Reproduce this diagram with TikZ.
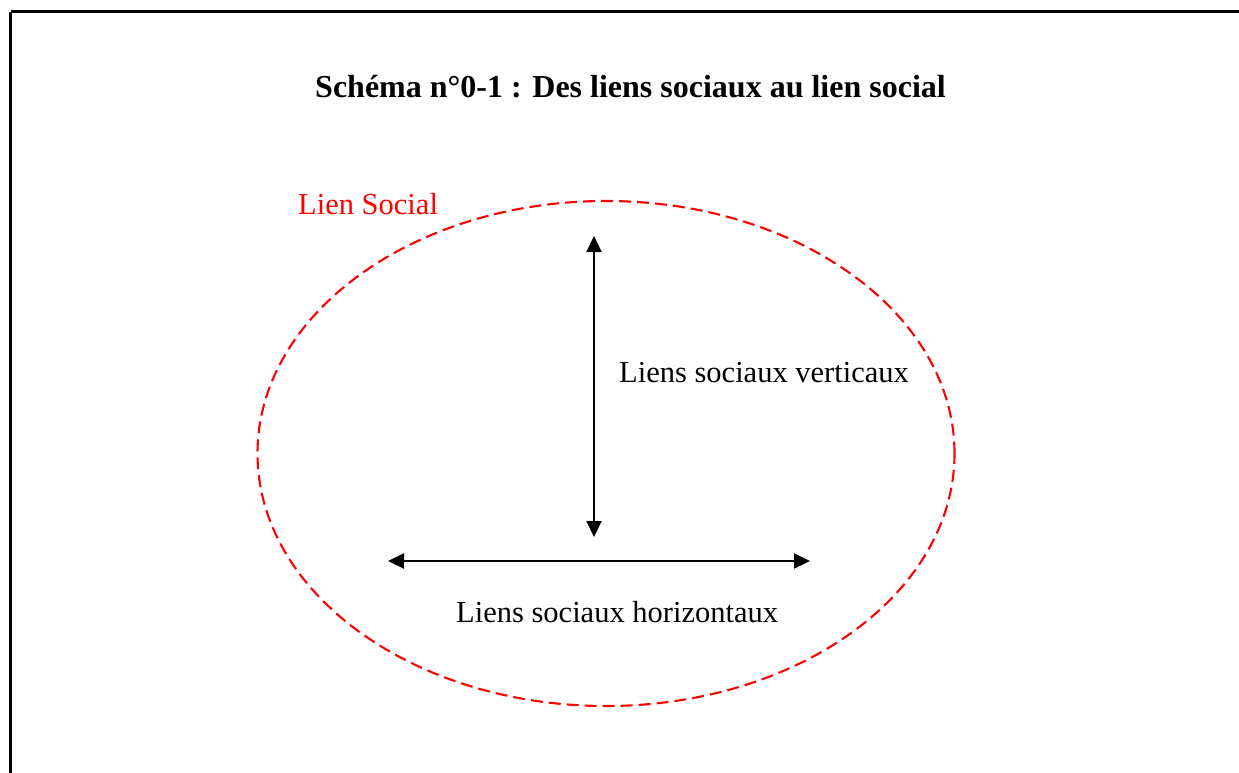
\documentclass[tikz,border=0pt]{standalone}
\usepackage{fontspec}
\setmainfont{Liberation Serif}
\usetikzlibrary{shapes.geometric,arrows.meta}
\definecolor{lienred}{RGB}{255,0,0}
\tikzset{
  frame/.style={draw=black,line width=3pt},
  lienellipse/.style={ellipse,draw=lienred,line width=2.1pt,dash pattern=on 12pt off 6pt,minimum width=697pt,minimum height=505pt,inner sep=0pt},
  biarrow/.style={line width=2.2pt,{Triangle[length=16pt,width=15pt]}-{Triangle[length=16pt,width=15pt]}},
  lbl/.style={font=\fontsize{30.5}{36}\selectfont,inner sep=0pt,anchor=base west},
}
\begin{document}
\begin{tikzpicture}[x=1pt,y=-1pt]
\useasboundingbox (0,0) rectangle (1239,773);
\fill[white] (0,0) rectangle (1239,773);
\draw[frame] (10.5,12) -- (1260,12);
\draw[frame] (10.5,12) -- (10.5,800);
\node[anchor=base,inner sep=0pt,font=\fontsize{32}{38}\selectfont\bfseries] (title) at (630.5,98) {Schéma n°0-1 : Des liens sociaux au lien social};
\node[lienellipse] (ell) at (606,453.5) {};
\node[lbl,text=lienred] (lien) at (298,214) {Lien Social};
\coordinate (vtop) at (594,236);
\coordinate (vbot) at (594,537);
\coordinate (hleft) at (388,561);
\coordinate (hright) at (810,561);
\draw[biarrow] (vtop) -- (vbot);
\draw[biarrow] (hleft) -- (hright);
\node[lbl] (vert) at (619,382) {Liens sociaux verticaux};
\node[lbl] (horiz) at (456,622) {Liens sociaux horizontaux};
\end{tikzpicture}
\end{document}
